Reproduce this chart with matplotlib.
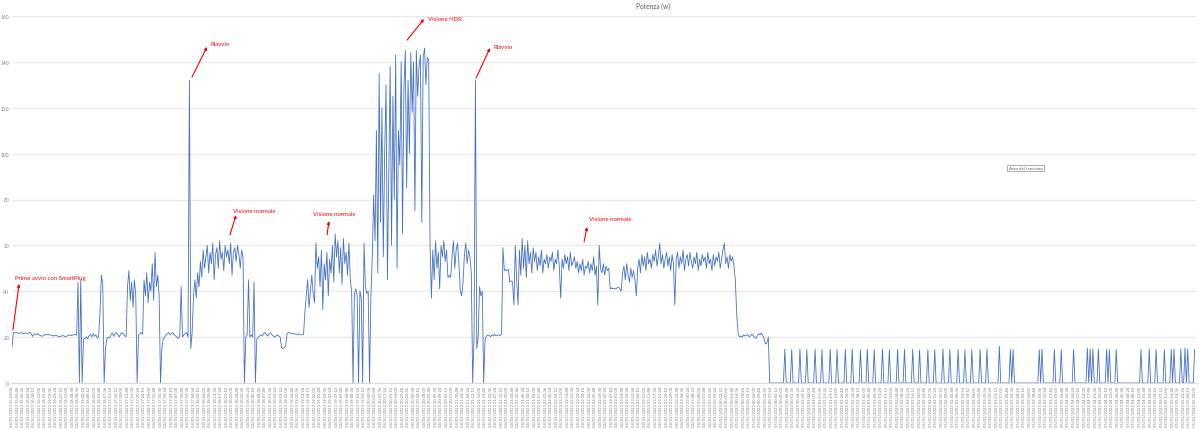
import numpy as np
import pandas as pd
import matplotlib.pyplot as plt

# --- dati (una lettura ogni ~57 s) ---
# tratto attivo: campioni 0..550
watts_active = [
    15.5, 22, 22, 21.8, 22, 21.6, 21.8, 22, 21.5, 21.7,
    21.9, 21.6, 21.8, 22.1, 21.4, 20.3, 21.2, 21.4, 21.1, 21.5,
    20.8, 20.6, 20.4, 20.7, 21, 21.2, 21.1, 21, 20.9, 20.7,
    20.5, 20.6, 20.8, 20.5, 20.3, 20.2, 20.5, 20.7, 20.4, 20.2,
    20.5, 20.8, 20.9, 20.7, 20.9, 21, 21.1, 20.9,
    44, 0, 45, 0,
    19, 19.5, 20.2, 19.2, 20.6, 21.2, 20.1, 21.5, 20.4, 21, 19.6, 20.2,
    31, 47, 43, 0,
    15, 19.5, 20, 19.6, 21, 21.8, 20.4, 21.5, 22, 21, 20.1, 21.4, 22, 21.2, 20.6, 20.2,
    42, 49, 36, 44, 33, 45, 38,
    0,
    21, 21.5, 22, 21.3,
    45, 38, 48, 35, 44, 40, 52, 36, 57, 42, 47, 38,
    0,
    15, 19.5, 20, 21, 21.5, 22, 21, 21.5, 22, 21, 20.5, 20, 19.5, 20.5,
    42,
    20, 21, 21.5, 22, 20,
    132, 15, 22,
    # visione normale
    38, 45, 37, 48, 42, 53, 46, 58, 50, 55,
    60, 48, 57, 52, 61, 45, 56, 59, 50, 62,
    54, 57, 49, 60, 55, 58, 52, 61, 47, 57,
    59, 53, 60, 56, 50, 58, 55,
    0, 20, 21, 45, 20, 21, 20, 44, 0, 19,
    20, 20.5, 21, 20.5, 21.5, 22, 21, 20.5, 21.5, 22, 21, 20.5, 20, 20.5, 21, 20.5, 20,
    15.5, 15, 15.5, 16,
    21.5, 22, 21.8, 21.7, 21.5, 21.5, 21.3, 21.2, 21.4, 21.2, 21, 21, 21.2,
    # visione normale 2
    31, 38, 45, 33, 40, 47, 39, 35, 61, 50,
    55, 42, 58, 32, 52, 45, 57, 38, 54, 48,
    60, 44, 65, 55, 62, 48, 59, 43, 63, 52,
    57, 47, 61,
    45, 40, 0, 39, 41, 38, 0, 40, 37, 0,
    61, 42, 39, 40, 0, 38, 55, 82,
    # visione HDR
    62, 110, 48, 135, 70, 120, 55, 100, 130, 45,
    90, 138, 60, 125, 80, 143, 50, 110, 95, 140,
    65, 128, 145, 85, 132, 100, 144, 118, 140, 75,
    145, 125, 138, 143, 70, 142, 146, 130, 142, 141,
    60, 37, 58, 45, 62, 50, 57, 41, 60, 55,
    62, 53, 58, 46, 47, 46, 55, 62, 50, 58,
    61, 52, 40, 38, 44, 56, 61, 52, 58, 55, 48,
    0, 21, 132, 15, 20, 42, 38, 40, 0,
    19, 20.5, 21, 20.8, 20.2, 21, 20.5, 21.2, 20.6, 20.8, 21, 20.7, 21.2,
    # visione normale 3
    59, 49, 49.5, 49, 49.5, 44, 44.5, 44, 34, 60,
    45, 34, 58, 47, 63, 50, 60, 46, 62, 52, 57, 48, 59,
    53, 57, 49, 55, 51, 58, 48, 54, 52, 56,
    50, 55, 53, 57, 49, 54, 52, 58, 51, 37,
    54, 50, 56, 52, 55, 49, 57, 51, 53, 55,
    50, 53, 48, 52, 49, 54, 47, 51, 50, 53,
    48, 52, 49, 55, 47, 51, 34, 60, 50, 48,
    52, 47, 51, 49, 50,
    41, 41.5, 41, 41.2, 41, 41.5, 41.8, 41.2, 40,
    48, 51, 45, 52, 47, 44, 50, 46, 49, 45, 38,
    50, 54, 48, 56, 51, 55, 49, 57, 52, 54,
    50, 56, 53, 58, 51, 55, 61, 52, 56, 50,
    54, 57, 51, 55, 49, 56, 52, 34, 54, 57,
    50, 55, 52, 58, 49, 54, 56, 51, 57, 53,
    50, 55, 52, 57, 49, 54, 51, 56, 53, 55,
    50, 57, 52, 54, 49, 56, 51, 55, 53, 57,
    50, 54, 58, 61, 52, 55, 50, 56, 53, 55, 51,
    45, 30, 22, 20,
    20.5, 20, 21, 20.5, 20.8, 21, 20.2, 20.5, 21.3, 20.6,
    20, 19.5, 20.5, 21.5, 21, 21.8, 20.5, 19.2, 17, 17.5, 20,
]

# standby notturno: 0 W con brevi picchi
n_samples = 861
standby_spike_idx = [
    562, 567, 573, 578, 584, 589, 595, 600, 606, 611,
    617, 622, 627, 633, 638, 644, 649, 655, 660, 666,
    671, 677, 682, 688, 693, 698, 704, 709, 718, 726,
    728, 747, 749, 758, 763, 772, 782, 784, 786, 790,
    796, 798, 803, 821, 827, 832, 838, 843, 845, 850,
    853, 855, 860,
]
standby_spike_w = [
    14.8, 14.6, 14.8, 14.5, 14.7, 14.6, 14.8, 14.5, 14.6, 14.8,
    14.5, 14.7, 14.6, 14.8, 14.5, 14.7, 14.8, 14.6, 14.4, 14.5,
    14.6, 14.8, 14.7, 14.6, 14.5, 14.6, 14.7, 14.8, 16.0, 14.7,
    14.6, 14.5, 14.8, 14.7, 14.6, 14.7, 15.2, 14.8, 14.9, 14.8,
    14.8, 14.5, 14.7, 14.6, 14.8, 14.7, 14.5, 14.6, 15.0, 14.9,
    15.3, 14.8, 14.7,
]

start_time = "2023-01-04 15:53:00"
sample_sec = 57
tick_every = 4

# (testo, x testo, y testo, coda freccia, punta freccia)
notes = [
    ("Primo avvio con SmartPlug", 2.2, 46.2, (0.7, 23.1), (5.1, 43.2)),
    ("Riavvio", 144.7, 148.2, (130.9, 133.4), (141.8, 146.5)),
    ("Visione normale", 160.7, 75.4, (158.5, 64.5), (162.9, 73.2)),
    ("Visione normale", 218.9, 74.1, (229.1, 64.5), (230.5, 70.6)),
    ("Visione HDR", 302.5, 159.1, (287.3, 149.5), (299.6, 158.7)),
    ("Riavvio", 349.8, 146.5, (337.5, 133.0), (347.6, 146.0)),
    ("Visione normale", 419.6, 71.5, (416.0, 61.5), (418.2, 68.0)),
]

watts = np.zeros(n_samples)
watts[:len(watts_active)] = watts_active
watts[standby_spike_idx] = standby_spike_w

ticks = np.arange(0, n_samples, tick_every)
tick_times = pd.date_range(start_time, periods=len(ticks), freq=f"{sample_sec * tick_every}s")
tick_labels = [t.strftime("%d/%m/%Y %H:%M:%S") for t in tick_times]

plt.rcParams['font.family'] = ['Lato', 'DejaVu Sans']

fig = plt.figure(figsize=(11.99, 4.31), dpi=100)
ax = fig.add_axes([12 / 1199, 1 - 384 / 431, 1184 / 1199, 367 / 431])

ax.plot(np.arange(n_samples), watts, color='#4472C4', linewidth=0.6)

ax.set_xlim(0, n_samples)
ax.set_ylim(0, 160)
ax.set_yticks(range(0, 161, 20))
ax.set_xticks(ticks)
ax.set_xticklabels(tick_labels, rotation=90, fontsize=3.0, color='#7f7f7f')
ax.tick_params(axis='y', labelsize=3.6, labelcolor='#7f7f7f', length=0, pad=2)
ax.tick_params(axis='x', length=0, pad=2)
ax.grid(axis='y', color='#e8e8e8', linewidth=0.9)
ax.set_axisbelow(True)
for side in ['top', 'right', 'left']:
    ax.spines[side].set_visible(False)
ax.spines['bottom'].set_color('#d9d9d9')
ax.spines['bottom'].set_linewidth(0.8)

fig.text(653 / 1199, 1 - 6 / 431, "Potenza (w)", ha='center', va='center',
         fontsize=4.8, color='#595959')

for label, tx, ty, tail, head in notes:
    ax.text(tx, ty, label, color='red', fontsize=4.3, ha='left', va='center')
    ax.annotate('', xy=head, xytext=tail,
                arrowprops=dict(arrowstyle='-|>', color='red', lw=0.8,
                                mutation_scale=4, shrinkA=0, shrinkB=0))

fig.text(1025.5 / 1199, 1 - 169 / 431, "Area del tracciato", ha='center', va='center',
         fontsize=3.2, color='#595959',
         bbox=dict(boxstyle='square,pad=0.3', fc='white', ec='#8c8c8c', lw=0.5))

fig.savefig("out.png", dpi=100)
